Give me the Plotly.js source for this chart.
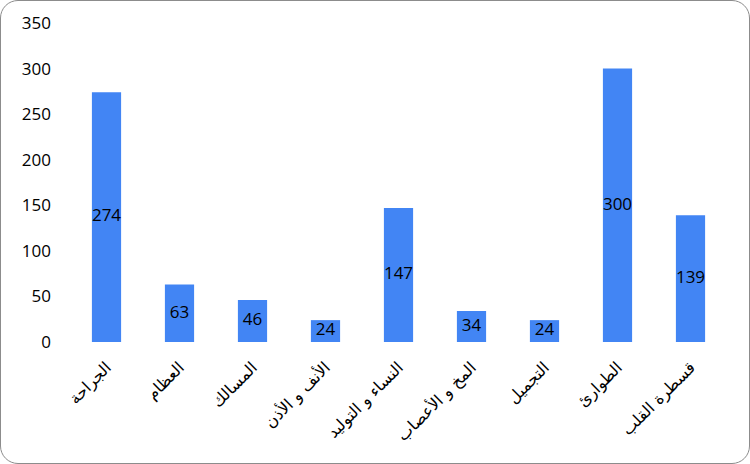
<!DOCTYPE html>
<html><head><meta charset="utf-8">
<script src="https://cdn.plot.ly/plotly-3.0.1.min.js"></script>
<style>
html,body{margin:0;padding:0;background:#fff;}
#wrap{position:absolute;left:0;top:0;width:750px;height:464px;box-sizing:border-box;border:1.5px solid #8c8c8c;border-radius:18px;overflow:hidden;}
#chart{position:absolute;left:-1.5px;top:-1.5px;width:750px;height:464px;}
</style></head>
<body><div id="wrap"><div id="chart"></div></div>
<script>
const categories = ["الجراحة","العظام","المسالك","الأنف و الأذن","النساء و التوليد","المخ و الأعصاب","التجميل","الطوارئ","قسطرة القلب"];
const values = [274, 63, 46, 24, 147, 34, 24, 300, 139];
const yTicks = [0, 50, 100, 150, 200, 250, 300, 350];

const bars = {
  type: 'bar', x: categories, y: values,
  marker: {color: '#4285f4'}, hoverinfo: 'x+y', showlegend: false
};
const labels = {
  type: 'scatter', mode: 'text', x: categories, y: values.map(v => v / 2),
  text: values.map(String), textposition: 'middle center',
  textfont: {family: 'Open Sans, Noto Sans, sans-serif', size: 17, color: '#000'},
  hoverinfo: 'skip', showlegend: false
};
const layout = {
  width: 750, height: 464,
  margin: {l: 70, r: 23, t: 23, b: 122},
  paper_bgcolor: 'rgba(0,0,0,0)', plot_bgcolor: 'rgba(0,0,0,0)',
  bargap: 0.6,
  font: {family: 'Open Sans, DejaVu Sans, sans-serif', color: '#000'},
  xaxis: {
    type: 'category', tickangle: -45, showgrid: false, zeroline: false, showline: false,
    ticks: '', ticklabelstandoff: 12,
    tickfont: {size: 16, family: 'DejaVu Sans, sans-serif', color: '#000'}
  },
  yaxis: {
    range: [0, 350], tickvals: yTicks, ticktext: yTicks.map(String),
    showgrid: false, zeroline: false, showline: false, ticks: '', ticklabelstandoff: 18,
    tickfont: {size: 17, color: '#000'}
  }
};
Plotly.newPlot('chart', [bars, labels], layout, {staticPlot: true});
</script></body></html>
